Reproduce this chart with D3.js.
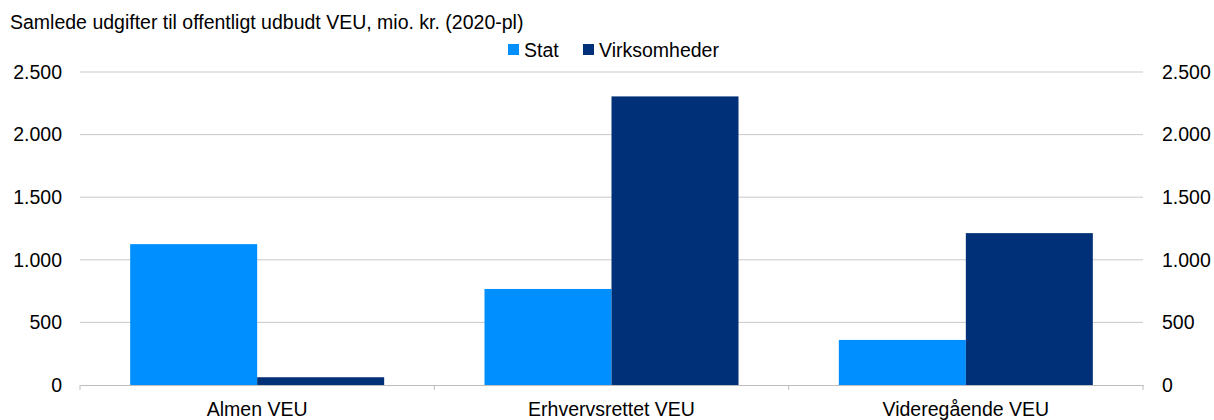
<!DOCTYPE html>
<html>
<head>
<meta charset="utf-8">
<script src="https://cdn.jsdelivr.net/npm/d3@7"></script>
<style>
  body { margin: 0; background: #fff; }
  svg { font-family: "Liberation Sans", Arial, sans-serif; }
</style>
</head>
<body>
<div class="canvas"></div>
<script>
// data
const categories = ['Almen VEU', 'Erhvervsrettet VEU', 'Videregående VEU'];
const seriesNames = ['Stat', 'Virksomheder'];
const stat = [1125, 767, 360];
const virksomheder = [62, 2305, 1213];
const yTicks = [0, 500, 1000, 1500, 2000, 2500];
const colors = ['#008fff', '#003078'];

const width = 1214, height = 420;
const fontSize = 19.5;
const margin = {top: 72, right: 71, bottom: 35, left: 80};
const graphWidth = width - margin.left - margin.right;
const graphHeight = height - margin.top - margin.bottom;

const svg = d3.select('.canvas')
  .append('svg')
    .attr('width', width)
    .attr('height', height);

const graph = svg.append('g')
  .attr('transform', `translate(${margin.left}, ${margin.top})`);

const da = d3.formatLocale({decimal: ',', thousands: '.', grouping: [3], currency: ['', ' kr.']});
const fmt = da.format(',d');

const y = d3.scaleLinear().domain([0, 2500]).range([graphHeight, 0]);
const x = d3.scaleBand().domain(categories).range([0, graphWidth]).padding(0);
const xs = d3.scaleBand().domain(seriesNames).range([0, x.bandwidth()])
  .paddingInner(0).paddingOuter(0.395);

// gridlines
graph.append('g')
  .selectAll('line')
  .data(yTicks.filter(d => d > 0))
  .enter().append('line')
    .attr('x1', 0).attr('x2', graphWidth)
    .attr('y1', d => y(d)).attr('y2', d => y(d))
    .attr('stroke', '#c9c9c9').attr('stroke-width', 1);

// bars
const rows = categories.map((c, i) => ({name: c, values: [stat[i], virksomheder[i]]}));
const groups = graph.selectAll('g.cat')
  .data(rows)
  .enter().append('g')
    .attr('class', 'cat')
    .attr('transform', d => `translate(${x(d.name)}, 0)`);

groups.selectAll('rect')
  .data(d => d.values.map((v, j) => ({key: seriesNames[j], v, j})))
  .enter().append('rect')
    .attr('x', d => xs(d.key))
    .attr('width', xs.bandwidth())
    .attr('y', d => y(d.v))
    .attr('height', d => graphHeight - y(d.v))
    .attr('fill', d => colors[d.j]);

// x axis
const xAxis = d3.axisBottom(x).tickSize(0).tickPadding(17);
const xAxisGroup = graph.append('g')
  .attr('transform', `translate(0, ${graphHeight})`)
  .call(xAxis);
xAxisGroup.select('.domain').attr('stroke', '#bdbdbd');
xAxisGroup.selectAll('text').attr('font-size', fontSize).attr('fill', '#000')
  .attr('font-family', '"Liberation Sans", Arial, sans-serif');
// boundary ticks
xAxisGroup.selectAll('line.sep')
  .data(d3.range(categories.length + 1))
  .enter().append('line')
    .attr('class', 'sep')
    .attr('x1', i => i * x.step()).attr('x2', i => i * x.step())
    .attr('y1', 0).attr('y2', 5)
    .attr('stroke', '#bdbdbd');

// y axes (left and right)
const yAxisL = d3.axisLeft(y).tickValues(yTicks).tickFormat(fmt).tickSize(0).tickPadding(18);
const yAxisR = d3.axisRight(y).tickValues(yTicks).tickFormat(fmt).tickSize(0).tickPadding(19);
[graph.append('g').call(yAxisL),
 graph.append('g').attr('transform', `translate(${graphWidth}, 0)`).call(yAxisR)]
  .forEach(g => {
    g.select('.domain').remove();
    g.selectAll('text').attr('font-size', fontSize).attr('fill', '#000')
      .attr('font-family', '"Liberation Sans", Arial, sans-serif');
  });

// title
svg.append('text')
  .attr('x', 10).attr('y', 29)
  .attr('font-size', fontSize)
  .text('Samlede udgifter til offentligt udbudt VEU, mio. kr. (2020-pl)');

// legend
const legend = svg.append('g').attr('transform', 'translate(508, 44)');
const lx = [0, 75];
seriesNames.forEach((s, i) => {
  legend.append('rect')
    .attr('x', lx[i]).attr('y', 0)
    .attr('width', 11).attr('height', 11)
    .attr('fill', colors[i]);
  legend.append('text')
    .attr('x', lx[i] + 16).attr('y', 13)
    .attr('font-size', fontSize)
    .text(s);
});
</script>
</body>
</html>
